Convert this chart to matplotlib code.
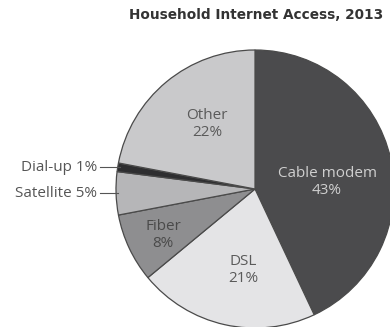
import numpy as np
import matplotlib
matplotlib.use("Agg")
import matplotlib.pyplot as plt

categories = ["Cable modem", "DSL", "Fiber", "Satellite", "Dial-up", "Other"]
shares = [43, 21, 8, 5, 1, 22]
colors = ["#4b4b4d", "#e4e4e6", "#8e8e90", "#b6b6b8", "#2e2e30", "#c9c9cb"]
title = "Household Internet Access, 2013"

W, H = 390, 327
plt.rcParams["font.family"] = ["Open Sans", "DejaVu Sans"]

fig = plt.figure(figsize=(W / 100, H / 100), dpi=100)
ax = fig.add_axes([0, 0, 1, 1])

cx, cy, r = 255, H - 189, 139
wedges, _ = ax.pie(shares, colors=colors, startangle=90, counterclock=False,
                   center=(cx, cy), radius=r,
                   wedgeprops=dict(edgecolor="#4a4a4a", linewidth=0.9))
ax.set_xlim(0, W)
ax.set_ylim(0, H)
ax.set_aspect("equal")
ax.axis("off")

# inside labels (pixel positions measured from top-left)
inside = {
    "Cable modem": (327, 182, "#cfcfcf"),
    "DSL": (243, 270, "#5a5a5a"),
    "Fiber": (163, 235, "#4a4a4a"),
    "Other": (207, 124, "#5a5a5a"),
}
for name, share in zip(categories, shares):
    if name in inside:
        x, y, c = inside[name]
        ax.text(x, H - y, f"{name}\n{share}%", ha="center", va="center",
                fontsize=11, color=c, linespacing=1.25)

# outside labels with leader lines for the small slices
for w, name, share in zip(wedges, categories, shares):
    if name in ("Satellite", "Dial-up"):
        mid = np.deg2rad((w.theta1 + w.theta2) / 2)
        ex, ey = cx + r * np.cos(mid), cy + r * np.sin(mid)
        ax.plot([100, ex + 2], [ey, ey], color="#555555", lw=0.8)
        ax.text(97, ey, f"{name} {share}%", ha="right", va="center",
                fontsize=11, color="#555555")

fig.text(383 / W, 1 - 15 / H, title, ha="right", va="center",
         fontsize=9.8, fontweight="bold", color="#333333",
         family=["DejaVu Sans"])

fig.savefig("out.png", dpi=100, facecolor="white")
